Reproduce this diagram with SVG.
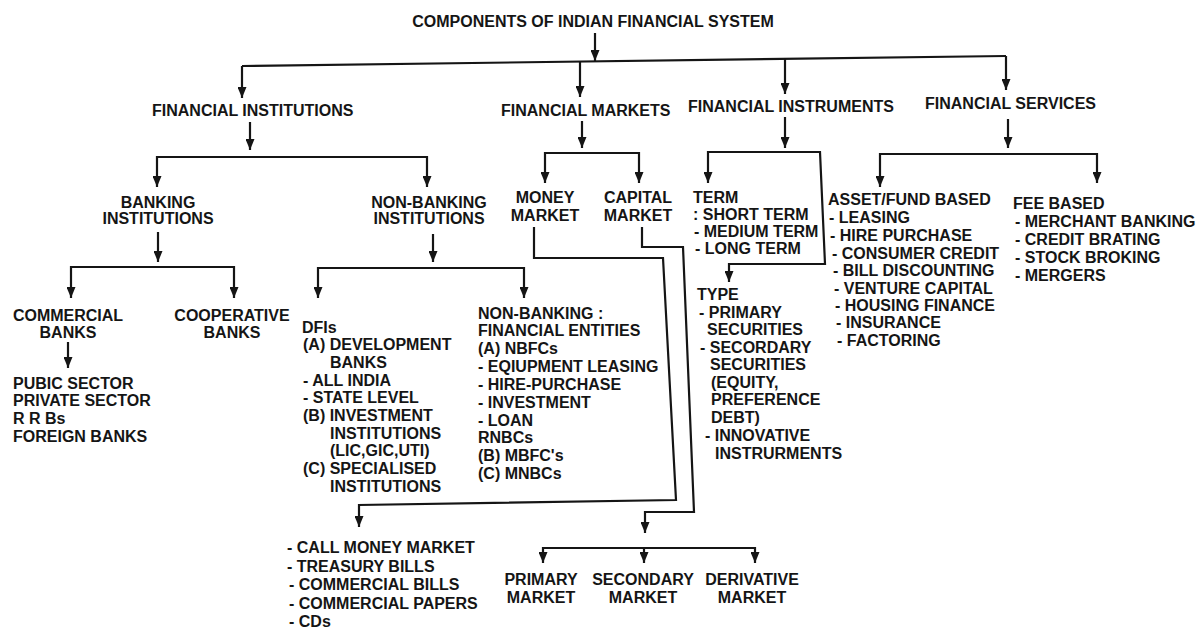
<svg xmlns="http://www.w3.org/2000/svg" width="1204" height="628" viewBox="0 0 1204 628">
<style>
text{font-family:"Liberation Sans",Arial,sans-serif;font-weight:bold;font-size:16px;fill:#151515}
.m{text-anchor:middle}
.c{fill:none;stroke:#151515;stroke-width:2.2;stroke-linejoin:miter}
.a{marker-end:url(#ah)}
.b{marker-start:url(#ah);marker-end:url(#ah)}
</style>
<defs>
<marker id="ah" viewBox="0 0 11 9" refX="11" refY="4.5" markerWidth="11" markerHeight="9" markerUnits="userSpaceOnUse" orient="auto-start-reverse">
<path d="M0,0 L11,4.5 L0,9 z" fill="#151515"/>
</marker>
</defs>
<rect width="1204" height="628" fill="#ffffff"/>
<g id="connectors">
<path class="c a" d="M595,33 L595,61"/>
<path class="c" d="M242,66 L1006,56"/>
<path class="c a" d="M242,66 L242,98"/>
<path class="c a" d="M580,61.6 L580,97"/>
<path class="c a" d="M785,58.9 L785,94"/>
<path class="c a" d="M1006,56 L1006,90"/>
<path class="c a" d="M250,122 L250,150"/>
<path class="c b" d="M157,187 L157,157 L427,157 L427,187"/>
<path class="c a" d="M158,232 L158,262"/>
<path class="c b" d="M71,298 L71,267 L234,267 L234,298"/>
<path class="c a" d="M68,342 L68,368"/>
<path class="c a" d="M433,234 L433,262"/>
<path class="c b" d="M318,298 L318,268 L524,268 L524,298"/>
<path class="c a" d="M582,121 L582,148"/>
<path class="c b" d="M545,183 L545,153 L639,153 L639,183"/>
<path class="c a" d="M534,227 L534,258 L663,258 L676,500 L359,505 L359,527"/>
<path class="c a" d="M642,227 L642,247 L683,247 L694,512 L645,512 L645,533"/>
<path class="c b" d="M543,563 L543,548 L755,548 L755,563"/>
<path class="c a" d="M644,548 L644,563"/>
<path class="c a" d="M785,117 L785,148"/>
<path class="c b" d="M708,183 L708,152 L820,152 L825,264 L729,264 L729,282"/>
<path class="c a" d="M1008,119 L1008,148"/>
<path class="c b" d="M880,187 L880,154 L1097,154 L1097,183"/>
</g>
<g id="root"><text class="m" x="593" y="27">COMPONENTS OF INDIAN FINANCIAL SYSTEM</text></g>
<g id="fin-institutions"><text x="152" y="116">FINANCIAL INSTITUTIONS</text></g>
<g id="fin-markets"><text x="501" y="116">FINANCIAL MARKETS</text></g>
<g id="fin-instruments"><text x="688" y="112">FINANCIAL INSTRUMENTS</text></g>
<g id="fin-services"><text x="925" y="109">FINANCIAL SERVICES</text></g>
<g id="banking"><text class="m" x="158" y="208">BANKING</text><text class="m" x="158" y="224">INSTITUTIONS</text></g>
<g id="non-banking"><text class="m" x="429" y="208">NON-BANKING</text><text class="m" x="429" y="224">INSTITUTIONS</text></g>
<g id="money-market"><text class="m" x="545" y="203">MONEY</text><text class="m" x="545" y="221">MARKET</text></g>
<g id="capital-market"><text class="m" x="638" y="203">CAPITAL</text><text class="m" x="638" y="221">MARKET</text></g>
<g id="term">
<text x="693" y="203">TERM</text>
<text x="693" y="220">: SHORT TERM</text>
<text x="694" y="237">- MEDIUM TERM</text>
<text x="695" y="254">- LONG TERM</text>
</g>
<g id="asset-fund">
<text x="828" y="205">ASSET/FUND BASED</text>
<text x="829" y="223">- LEASING</text>
<text x="830" y="241">- HIRE PURCHASE</text>
<text x="832" y="259">- CONSUMER CREDIT</text>
<text x="833" y="276">- BILL DISCOUNTING</text>
<text x="834" y="294">- VENTURE CAPITAL</text>
<text x="835" y="311">- HOUSING FINANCE</text>
<text x="836" y="328">- INSURANCE</text>
<text x="837" y="346">- FACTORING</text>
</g>
<g id="fee-based">
<text x="1013" y="209">FEE BASED</text>
<text x="1015" y="227">- MERCHANT BANKING</text>
<text x="1015" y="245">- CREDIT BRATING</text>
<text x="1015" y="263">- STOCK BROKING</text>
<text x="1015" y="281">- MERGERS</text>
</g>
<g id="commercial"><text class="m" x="68" y="321">COMMERCIAL</text><text class="m" x="68" y="338">BANKS</text></g>
<g id="cooperative"><text class="m" x="232" y="321">COOPERATIVE</text><text class="m" x="232" y="338">BANKS</text></g>
<g id="commercial-types">
<text x="13" y="389">PUBIC SECTOR</text>
<text x="13" y="406">PRIVATE SECTOR</text>
<text x="13" y="424">R R Bs</text>
<text x="13" y="442">FOREIGN BANKS</text>
</g>
<g id="dfis">
<text x="302" y="333">DFIs</text>
<text x="303" y="350">(A) DEVELOPMENT</text>
<text x="330" y="368">BANKS</text>
<text x="303" y="386">- ALL INDIA</text>
<text x="303" y="403">- STATE LEVEL</text>
<text x="303" y="421">(B) INVESTMENT</text>
<text x="330" y="439">INSTITUTIONS</text>
<text x="330" y="456">(LIC,GIC,UTI)</text>
<text x="303" y="474">(C) SPECIALISED</text>
<text x="330" y="492">INSTITUTIONS</text>
</g>
<g id="nbfe">
<text x="478" y="319">NON-BANKING :</text>
<text x="478" y="336">FINANCIAL ENTITIES</text>
<text x="478" y="354">(A) NBFCs</text>
<text x="478" y="372">- EQIUPMENT LEASING</text>
<text x="478" y="390">- HIRE-PURCHASE</text>
<text x="478" y="408">- INVESTMENT</text>
<text x="478" y="426">- LOAN</text>
<text x="478" y="443">RNBCs</text>
<text x="478" y="461">(B) MBFC's</text>
<text x="478" y="479">(C) MNBCs</text>
</g>
<g id="type">
<text x="697" y="300">TYPE</text>
<text x="699" y="318">- PRIMARY</text>
<text x="707" y="335">SECURITIES</text>
<text x="700" y="353">- SECORDARY</text>
<text x="710" y="370">SECURITIES</text>
<text x="711" y="388">(EQUITY,</text>
<text x="711" y="405">PREFERENCE</text>
<text x="711" y="423">DEBT)</text>
<text x="705" y="441">- INNOVATIVE</text>
<text x="715" y="459">INSTRURMENTS</text>
</g>
<g id="money-instruments">
<text x="287" y="553">- CALL MONEY MARKET</text>
<text x="287" y="572">- TREASURY BILLS</text>
<text x="289" y="590">- COMMERCIAL BILLS</text>
<text x="289" y="609">- COMMERCIAL PAPERS</text>
<text x="289" y="627">- CDs</text>
</g>
<g id="primary-market"><text class="m" x="541" y="585">PRIMARY</text><text class="m" x="541" y="603">MARKET</text></g>
<g id="secondary-market"><text class="m" x="643" y="585">SECONDARY</text><text class="m" x="643" y="603">MARKET</text></g>
<g id="derivative-market"><text class="m" x="752" y="585">DERIVATIVE</text><text class="m" x="752" y="603">MARKET</text></g>
</svg>
